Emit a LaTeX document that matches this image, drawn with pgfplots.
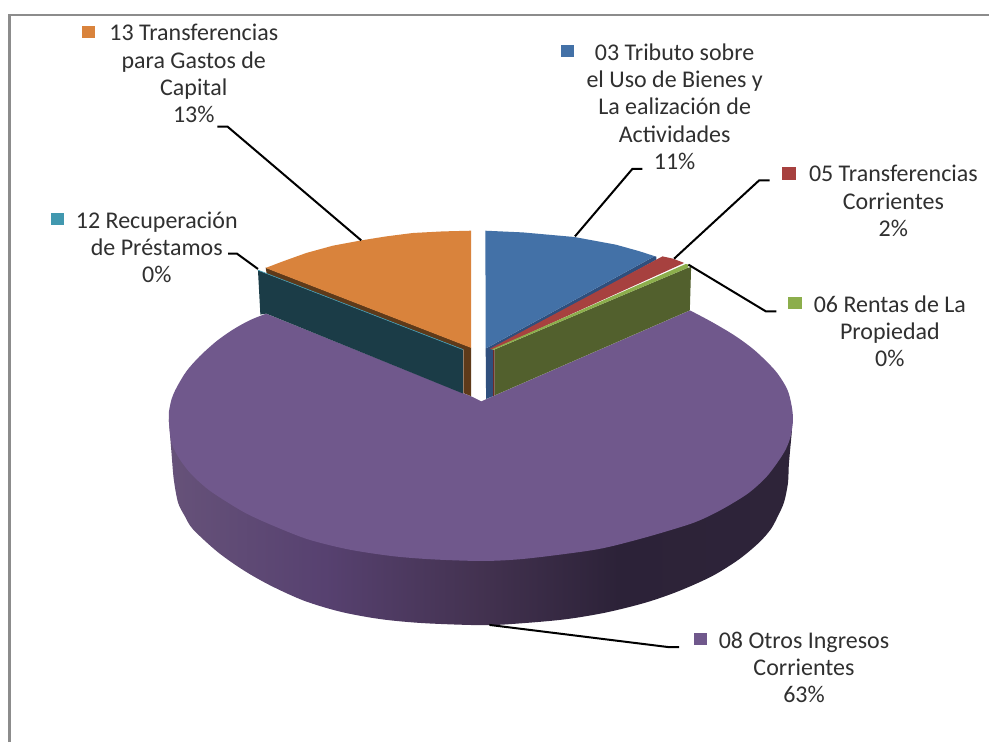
\documentclass[border=0pt]{standalone}
\usepackage{pgfplots}
\pgfplotsset{compat=1.18}
\usepackage{fontspec}
\setmainfont{Carlito}
\definecolor{cblue}{HTML}{4371A7}
\definecolor{cbluew}{HTML}{2F4F7D}
\definecolor{cred}{HTML}{A7413F}
\definecolor{credw}{HTML}{6E2B2A}
\definecolor{cgreen}{HTML}{8CAE4C}
\definecolor{cgreenw}{HTML}{52602D}
\definecolor{cpurple}{HTML}{70588C}
\definecolor{cteal}{HTML}{4198AF}
\definecolor{ctealw}{HTML}{1B3C47}
\definecolor{corange}{HTML}{D9833C}
\definecolor{corangew}{HTML}{5E3A1A}
\definecolor{cframe}{HTML}{8C8C8C}
\definecolor{ctext}{HTML}{303030}
\definecolor{pw1}{HTML}{665279}
\definecolor{pw2}{HTML}{574170}
\definecolor{pw3}{HTML}{433250}
\definecolor{pw4}{HTML}{2C2238}
\definecolor{pw5}{HTML}{2E2439}
\pgfdeclarehorizontalshading{pwall}{100bp}{color(0bp)=(pw1); color(25bp)=(pw1); color(37.5bp)=(pw2); color(50bp)=(pw3); color(61bp)=(pw4); color(75bp)=(pw5); color(100bp)=(pw5)}
% one line of label text, centred, by baseline
\newcommand{\lab}[3]{\node[anchor=base,text=ctext,font=\fontsize{18}{21}\selectfont,inner sep=0pt] at (axis cs:#1,#2) {#3};}
\begin{document}
\begin{tikzpicture}
\begin{axis}[
  scale only axis, width=742.5pt, height=557.25pt,
  xmin=0, xmax=990, ymin=0, ymax=743, y dir=reverse,
  hide axis, clip=false,
  every axis plot/.append style={draw=none, mark=none},
]
% page and frame
\addplot[fill=white] coordinates {(0,0) (990,0) (990,743) (0,743)} --cycle;
\addplot[draw=cframe, line width=1.9pt] coordinates {(9.3,743) (9.3,15) (990,15)};

% purple slice: side, top, then the notch cut back out
\addplot[shading=pwall, smooth] coordinates {
  (169,420) (171.7,453.3) (174,480) (178.3,503.3) (185,516.7) (193.3,530) (218.3,553)
  (245,571.7) (271.7,586.7) (305,601.7) (341.7,612.7) (381.7,620) (425,624) (485,626)
  (523.3,624) (566.7,620) (606.7,613.3) (646.7,603.3) (680,591.7) (713.3,576.7)
  (740,560) (760,543.3) (771.7,530) (778.3,518) (785,503) (789,483.3) (790,463.3) (794,420)} --cycle;
\addplot[fill=cpurple, smooth] coordinates {
  (266.7,314) (250,320.7) (233.3,330) (216.7,341.7) (200,356.7) (186.7,371.7) (176.7,388.3)
  (171.7,400) (169,413.3) (169,420) (171.7,443.3) (180,460) (191.7,475) (208.3,490) (228.3,503.3)
  (248.3,515) (275,527) (308.3,540) (348.3,550) (391.7,556.7) (431.7,560) (482,561.7)
  (520,560) (563.3,555) (603.3,549) (646.7,538) (690,525) (710,516.7) (730,506) (750,493.3)
  (766.7,478.3) (778.3,463.3) (786.7,450) (791.7,436.7) (794,421) (792.7,406.7) (788.3,390)
  (776.7,371.7) (756.7,351.7) (736.7,336.7) (713.3,322.7) (690.7,310.7)} --cycle;
\addplot[fill=white] coordinates {(266.7,314) (266.7,300) (690.7,300) (690.7,310.7) (495,396) (482,401.7) (471.7,396.7)} --cycle;

% walls behind
\addplot[fill=ctealw] coordinates {(258.3,270.7) (463.5,350) (463.5,394) (266.7,314) (260.7,315)} --cycle;
\addplot[fill=corangew] coordinates {(266,268) (471.7,348) (471.7,396.7) (464,393.5) (464,350) (267,274)} --cycle;
\addplot[fill=cgreenw] coordinates {(495,350) (688.3,268.3) (692,267.3) (690.7,310.7) (495,396)} --cycle;
\addplot[fill=credw] coordinates {(493.5,350) (495,350) (495,396) (493.5,396.7)} --cycle;
\addplot[fill=cbluew] coordinates {(486.3,349) (655.5,256.5) (657.3,257) (657.3,260) (493.5,350) (493.5,396.7) (486.7,399.5)} --cycle;

% top faces
\addplot[fill=corange] coordinates {(266,268.3) (283.3,261.7) (306.7,253.3) (333.3,246) (361.7,240.7)
  (386.7,236.7) (413.3,233.3) (443.3,231.7) (471.7,231) (471.7,348.3)} --cycle;
\addplot[draw=cteal, line width=0.5pt] coordinates {(258.3,270.5) (463.5,350)};
\addplot[fill=cblue] coordinates {(486,231) (523.3,232.7) (575,237.3) (616.7,245) (640,251.5) (655.5,256.5) (486.3,349)} --cycle;
\addplot[fill=cred] coordinates {(663.3,256.7) (674,259) (685,263.3) (495,349.5) (490,349.5)} --cycle;
\addplot[fill=cgreen] coordinates {(686.7,264.3) (690,265) (688.3,268.3) (495,350) (492,350)} --cycle;

% leader lines
\addplot[draw=black, line width=1.5pt] coordinates {(217.7,126.7) (227.7,126.7) (361.7,240.7)};
\addplot[draw=black, line width=1.5pt] coordinates {(228.3,254) (237.3,254) (258.3,269.3)};
\addplot[draw=black, line width=1.5pt] coordinates {(643.3,169) (633.3,169) (575.7,236.7)};
\addplot[draw=black, line width=1.5pt] coordinates {(770.7,180.7) (760,180.7) (675,259)};
\addplot[draw=black, line width=1.5pt] coordinates {(689.3,265) (766.7,311.7) (777.3,311.7)};
\addplot[draw=black, line width=1.5pt] coordinates {(490,625.7) (670,648) (680,648)};

% legend keys
\addplot[fill=corange] coordinates {(82.3,26) (95,26) (95,37.7) (82.3,37.7)} --cycle;
\addplot[fill=cteal] coordinates {(51,213.7) (63.7,213.7) (63.7,225.7) (51,225.7)} --cycle;
\addplot[fill=cblue] coordinates {(561.7,45) (574.3,45) (574.3,57) (561.7,57)} --cycle;
\addplot[fill=cred] coordinates {(782.7,167.3) (796.7,167.3) (796.7,180) (782.7,180)} --cycle;
\addplot[fill=cgreen] coordinates {(789.3,297.7) (803.3,297.7) (803.3,309.3) (789.3,309.3)} --cycle;
\addplot[fill=cpurple] coordinates {(695,634) (708,634) (708,646) (695,646)} --cycle;

\lab{194}{41}{13 Transferencias}
\lab{194}{68.5}{para Gastos de}
\lab{194}{96}{Capital}
\lab{194}{123}{13\%}
\lab{157}{228.7}{12 Recuperación}
\lab{157}{256}{de Préstamos}
\lab{157}{283.3}{0\%}
\lab{675.5}{60.3}{03 Tributo sobre}
\lab{675.5}{87.6}{el Uso de Bienes y}
\lab{675.5}{115}{La ealización de}
\lab{675.5}{142.3}{Actividades}
\lab{675.5}{169.6}{11\%}
\lab{894.5}{182}{05 Transferencias}
\lab{894.5}{209.3}{Corrientes}
\lab{894.5}{237}{2\%}
\lab{891}{312.7}{06 Rentas de La}
\lab{891}{340}{Propiedad}
\lab{891}{367.3}{0\%}
\lab{805}{649.3}{08 Otros Ingresos}
\lab{805}{676.5}{Corrientes}
\lab{805}{703.7}{63\%}
\end{axis}
\end{tikzpicture}
\end{document}
